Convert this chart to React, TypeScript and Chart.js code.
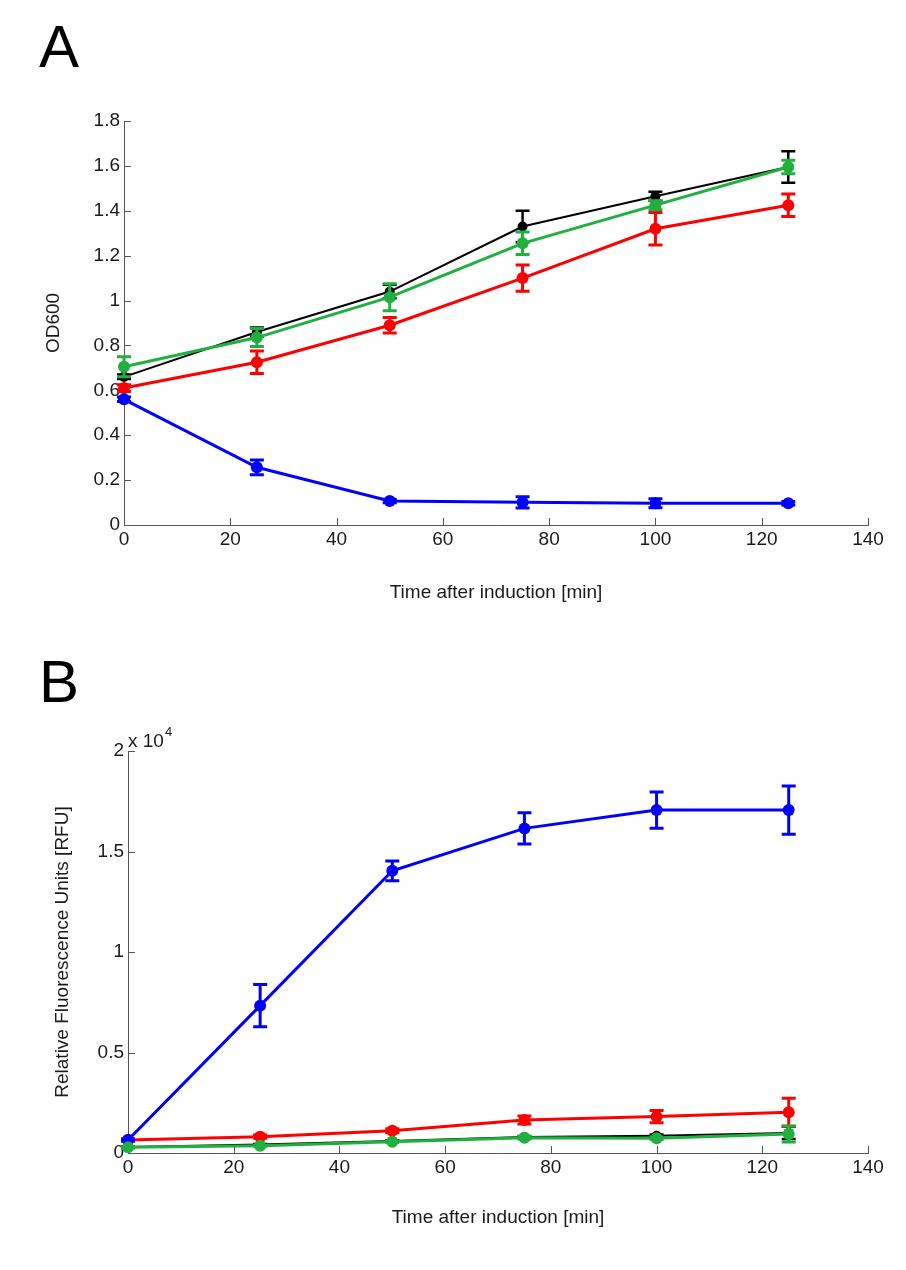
import React, { useEffect, useRef } from "react";
import { Chart, registerables } from "chart.js";

Chart.register(...registerables);

// ---------- data ----------
const TIME = [0, 25, 50, 75, 100, 125];

// Panel A: OD600
const OD_BLACK = [0.66, 0.86, 1.04, 1.33, 1.465, 1.595];
const OD_BLACK_ERR = [0.01, 0.02, 0.03, 0.07, 0.02, 0.07];
const OD_RED = [0.61, 0.725, 0.89, 1.1, 1.32, 1.425];
const OD_RED_ERR = [0.015, 0.05, 0.035, 0.058, 0.072, 0.05];
const OD_BLUE = [0.56, 0.257, 0.107, 0.101, 0.097, 0.097];
const OD_BLUE_ERR = [0.01, 0.033, 0.008, 0.025, 0.02, 0.008];
const OD_GREEN = [0.705, 0.835, 1.015, 1.255, 1.425, 1.595];
const OD_GREEN_ERR = [0.045, 0.04, 0.06, 0.05, 0.02, 0.03];

// Panel B: RFU
const RFU_BLACK = [300, 420, 600, 800, 860, 1000];
const RFU_BLACK_ERR = [30, 30, 40, 50, 60, 300];
const RFU_RED = [650, 810, 1110, 1640, 1810, 2025];
const RFU_RED_ERR = [50, 80, 100, 200, 300, 700];
const RFU_BLUE = [650, 7330, 14040, 16150, 17060, 17060];
const RFU_BLUE_ERR = [50, 1050, 490, 780, 900, 1200];
const RFU_GREEN = [280, 360, 560, 760, 730, 945];
const RFU_GREEN_ERR = [30, 30, 40, 60, 60, 400];

const X_TICKS = [0, 20, 40, 60, 80, 100, 120, 140];
const OD_TICKS = [0, 0.2, 0.4, 0.6, 0.8, 1, 1.2, 1.4, 1.6, 1.8];
const RFU_TICKS = [0, 5000, 10000, 15000, 20000];

const X_TITLE = "Time after induction [min]";
const A_Y_TITLE = "OD600";
const B_Y_TITLE = "Relative Fluorescence Units [RFU]";

// ---------- styles ----------
const BLACK = "#000000";
const RED = "#ff0000";
const BLUE = "#0000ff";
const GREEN = "#20b040";
const AXIS_COLOR = "#555555";
const FONT = "'Liberation Sans', Arial, sans-serif";

const errorBarPlugin = {
  id: "errorBars",
  beforeDatasetDraw(chart: any, args: any) {
    const ds: any = chart.data.datasets[args.index];
    const errs: number[] = ds.errors;
    if (!errs) return;
    const ys = chart.scales.y;
    const ctx = chart.ctx;
    ctx.save();
    ctx.strokeStyle = ds.borderColor;
    ctx.lineWidth = ds.errorWidth || 2.5;
    const cap = 7;
    args.meta.data.forEach((pt: any, i: number) => {
      const v = ds.data[i].y;
      const e = errs[i];
      const x = pt.x;
      const yt = ys.getPixelForValue(v + e);
      const yb = ys.getPixelForValue(v - e);
      ctx.beginPath();
      ctx.moveTo(x, yt);
      ctx.lineTo(x, yb);
      ctx.moveTo(x - cap, yt);
      ctx.lineTo(x + cap, yt);
      ctx.moveTo(x - cap, yb);
      ctx.lineTo(x + cap, yb);
      ctx.stroke();
    });
    ctx.restore();
  },
};

const inwardTicksPlugin = {
  id: "inwardTicks",
  beforeDatasetsDraw(chart: any) {
    const { ctx, chartArea } = chart;
    const xs = chart.scales.x;
    const ys = chart.scales.y;
    const len = 7;
    ctx.save();
    ctx.strokeStyle = AXIS_COLOR;
    ctx.lineWidth = 1;
    ctx.beginPath();
    xs.ticks.forEach((t: any) => {
      const px = Math.round(xs.getPixelForValue(t.value)) + 0.5;
      ctx.moveTo(px, chartArea.bottom);
      ctx.lineTo(px, chartArea.bottom - len);
    });
    ys.ticks.forEach((t: any) => {
      const py = Math.round(ys.getPixelForValue(t.value)) + 0.5;
      ctx.moveTo(chartArea.left, py);
      ctx.lineTo(chartArea.left + len, py);
    });
    ctx.stroke();
    ctx.restore();
  },
};

const exponentPlugin = {
  id: "exponentLabel",
  afterDraw(chart: any) {
    const opts = chart.options.plugins.exponentLabel;
    if (!opts || !opts.display) return;
    const { ctx, chartArea } = chart;
    ctx.save();
    ctx.fillStyle = "#1a1a1a";
    ctx.textBaseline = "alphabetic";
    ctx.textAlign = "left";
    ctx.font = `19px ${FONT}`;
    const x0 = chartArea.left;
    const y0 = chartArea.top - 4;
    ctx.fillText(opts.base, x0, y0);
    const w = ctx.measureText(opts.base).width;
    ctx.font = `13px ${FONT}`;
    ctx.fillText(opts.exp, x0 + w + 1, y0 - 11);
    ctx.restore();
  },
};

function series(label: string, ys: number[], errs: number[], color: string, order: number, lw: number, ew: number, r: number) {
  return {
    label,
    data: TIME.map((t, i) => ({ x: t, y: ys[i] })),
    errors: errs,
    borderColor: color,
    backgroundColor: color,
    pointBackgroundColor: color,
    pointBorderColor: color,
    pointBorderWidth: 0,
    pointRadius: r,
    borderWidth: lw,
    errorWidth: ew,
    order,
    tension: 0,
    clip: false,
  } as any;
}

interface PanelCfg {
  height: number;
  area: { left: number; right: number; top: number; bottom: number };
  yMax: number;
  yTicks: number[];
  yFmt: (v: number) => string;
  yTitle: string;
  yTitlePad: number;
  xTitlePad: number;
  datasets: any[];
  exponent?: { base: string; exp: string };
}

function buildChart(canvas: HTMLCanvasElement, cfg: PanelCfg) {
  const W = 906;
  const { area } = cfg;
  return new Chart(canvas, {
    type: "line",
    data: { datasets: cfg.datasets },
    plugins: [inwardTicksPlugin, errorBarPlugin, exponentPlugin],
    options: {
      responsive: false,
      animation: false,
      devicePixelRatio: 1,
      layout: { padding: { left: 0, right: W - area.right, top: area.top, bottom: 0 } },
      plugins: {
        legend: { display: false },
        tooltip: { enabled: false },
        exponentLabel: cfg.exponent ? { display: true, ...cfg.exponent } : { display: false },
      } as any,
      scales: {
        x: {
          type: "linear",
          min: 0,
          max: 140,
          afterBuildTicks: (s: any) => {
            s.ticks = X_TICKS.map((v) => ({ value: v }));
          },
          afterFit: (s: any) => {
            s.height = cfg.height - area.bottom;
          },
          ticks: {
            font: { family: FONT, size: 19 },
            color: "#1a1a1a",
            padding: 3,
            maxRotation: 0,
            autoSkip: false,
          },
          grid: { display: false, drawTicks: false },
          border: { display: true, color: AXIS_COLOR, width: 1 },
          title: {
            display: true,
            text: X_TITLE,
            font: { family: FONT, size: 19 },
            color: "#1a1a1a",
            padding: { top: 0, bottom: cfg.xTitlePad },
          },
        },
        y: {
          type: "linear",
          min: 0,
          max: cfg.yMax,
          afterBuildTicks: (s: any) => {
            s.ticks = cfg.yTicks.map((v) => ({ value: v }));
          },
          afterFit: (s: any) => {
            s.width = area.left;
          },
          ticks: {
            font: { family: FONT, size: 19 },
            color: "#1a1a1a",
            padding: 4,
            autoSkip: false,
            callback: (v: any) => cfg.yFmt(Number(v)),
          },
          grid: { display: false, drawTicks: false },
          border: { display: true, color: AXIS_COLOR, width: 1 },
          title: {
            display: true,
            text: cfg.yTitle,
            font: { family: FONT, size: 19 },
            color: "#1a1a1a",
            padding: { top: cfg.yTitlePad, bottom: 0 },
          },
        },
      },
    } as any,
  });
}

export default function App() {
  const refA = useRef<HTMLCanvasElement>(null);
  const refB = useRef<HTMLCanvasElement>(null);

  useEffect(() => {
    const a = buildChart(refA.current!, {
      height: 640,
      area: { left: 124, right: 868, top: 121, bottom: 525 },
      yMax: 1.8,
      yTicks: OD_TICKS,
      yFmt: (v) => String(Math.round(v * 10) / 10),
      yTitle: A_Y_TITLE,
      yTitlePad: 42,
      xTitlePad: 36,
      datasets: [
        series("black", OD_BLACK, OD_BLACK_ERR, BLACK, 3, 2, 2.5, 5),
        series("red", OD_RED, OD_RED_ERR, RED, 2, 3, 3, 6),
        series("blue", OD_BLUE, OD_BLUE_ERR, BLUE, 1, 3, 3, 6),
        series("green", OD_GREEN, OD_GREEN_ERR, GREEN, 0, 3, 3, 6),
      ],
    });
    const b = buildChart(refB.current!, {
      height: 630,
      area: { left: 128, right: 868, top: 111, bottom: 513 },
      yMax: 20000,
      yTicks: RFU_TICKS,
      yFmt: (v) => String(Math.round((v / 10000) * 10) / 10),
      yTitle: B_Y_TITLE,
      yTitlePad: 51,
      xTitlePad: 41,
      exponent: { base: "x 10", exp: "4" },
      datasets: [
        series("black", RFU_BLACK, RFU_BLACK_ERR, BLACK, 3, 2, 2.5, 5),
        series("red", RFU_RED, RFU_RED_ERR, RED, 2, 3, 3, 6),
        series("blue", RFU_BLUE, RFU_BLUE_ERR, BLUE, 1, 3, 3, 6),
        series("green", RFU_GREEN, RFU_GREEN_ERR, GREEN, 0, 3, 3, 6),
      ],
    });
    return () => {
      a.destroy();
      b.destroy();
    };
  }, []);

  const letter: React.CSSProperties = {
    position: "absolute",
    fontFamily: FONT,
    fontSize: 60,
    lineHeight: "60px",
    color: "#000",
    margin: 0,
  };

  return (
    <div style={{ position: "absolute", left: 0, top: 0, width: 906, height: 1270, background: "#fff" }}>
      <canvas ref={refA} width={906} height={640} style={{ position: "absolute", left: 0, top: 0, width: 906, height: 640 }} />
      <canvas ref={refB} width={906} height={630} style={{ position: "absolute", left: 0, top: 640, width: 906, height: 630 }} />
      <div style={{ ...letter, left: 39, top: 17 }}>A</div>
      <div style={{ ...letter, left: 39, top: 652 }}>B</div>
    </div>
  );
}
